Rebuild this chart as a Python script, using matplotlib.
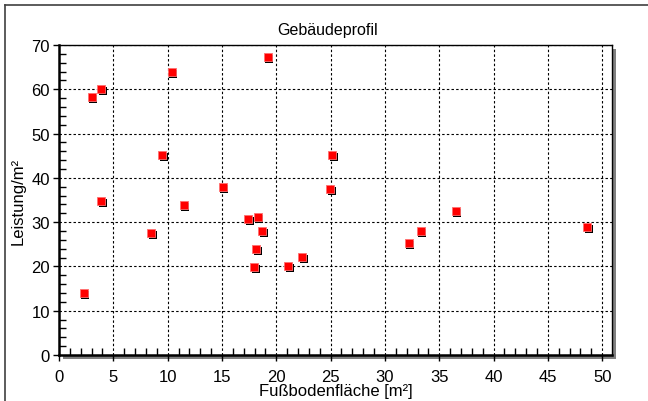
import matplotlib.pyplot as plt
from matplotlib.patches import Rectangle
from matplotlib.lines import Line2D
from matplotlib.transforms import offset_copy

# Fußbodenfläche [m²] and Leistung/m²
flaeche = [2.3, 3.0, 3.9, 3.9, 8.5, 9.5, 10.4, 11.5, 15.05, 17.4, 18.3, 17.95,
           18.15, 18.7, 19.2, 21.1, 22.4, 24.95, 25.15, 32.2, 33.3, 36.5, 48.6]
leistung = [14.0, 58.3, 60.1, 34.7, 27.6, 45.2, 63.8, 33.9, 37.9, 30.7, 31.1, 19.9,
            23.9, 28.0, 67.4, 20.2, 22.1, 37.5, 45.2, 25.3, 27.9, 32.6, 28.9]

x_ticks = [0, 5, 10, 15, 20, 25, 30, 35, 40, 45, 50]
y_ticks = [0, 10, 20, 30, 40, 50, 60, 70]

plt.rcParams['font.family'] = ['Liberation Sans', 'DejaVu Sans']

W, H = 648, 402
fig = plt.figure(figsize=(W / 100, H / 100), dpi=100)

# axes box in pixels (left, top, right, bottom)
L, T, R, B = 59, 46, 612, 356
ax = fig.add_axes([L / W, 1 - B / H, (R - L) / W, (B - T) / H])
ax.set_zorder(2)

# grey drop shadow behind the plot area
fig.patches.append(Rectangle(((L + 4) / W, 1 - (B + 4) / H), (R - L) / W, (B - T) / H,
                             transform=fig.transFigure, facecolor='#808080',
                             edgecolor='none', zorder=1))
# outer frame
fig.lines.append(Line2D([5 / W, 5 / W], [0, 1 - 6 / H], transform=fig.transFigure,
                        color='#404040', lw=1.2))
fig.lines.append(Line2D([5 / W, 1], [1 - 6 / H, 1 - 6 / H], transform=fig.transFigure,
                        color='#404040', lw=1.2))

ax.set_xlim(0, 50.9)
ax.set_ylim(0, 70)
ax.set_xticks(x_ticks)
ax.set_yticks(y_ticks)
ax.set_xticks(range(1, 51), minor=True)
ax.set_yticks(range(2, 70, 2), minor=True)
ax.tick_params(which='major', direction='out', length=4.5, width=1.0, labelsize=12,
               colors='black')
ax.tick_params(axis='x', which='major', pad=5.5)
ax.tick_params(axis='y', which='major', pad=2)
ax.tick_params(which='minor', direction='in', length=5, width=1.0)

ax.grid(True, which='major', color='black', linestyle=(0, (2.2, 2)), linewidth=0.8)
ax.set_axisbelow(True)

for side in ['left', 'bottom']:
    ax.spines[side].set_linewidth(1.8)
for side in ['top', 'right']:
    ax.spines[side].set_linewidth(1.0)

shadow = offset_copy(ax.transData, fig=fig, x=1.5, y=-2, units='dots')
ax.scatter(flaeche, leistung, marker='s', s=28, color='black', linewidths=0,
           transform=shadow, zorder=3, clip_on=False)
ax.scatter(flaeche, leistung, marker='s', s=26, color='#ff0000', edgecolors='#ff7070',
           linewidths=0.6, zorder=4, clip_on=False)

fig.text(328 / W, 1 - 35 / H, 'Gebäudeprofil', ha='center', va='baseline', fontsize=11.5)
fig.text(336 / W, 1 - 396 / H, 'Fußbodenfläche [m²]', ha='center', va='baseline',
         fontsize=12)
fig.text(18 / W, 1 - 201 / H, 'Leistung/m²', ha='center', va='center', rotation=90,
         fontsize=12)

fig.savefig('out.png', dpi=100)
